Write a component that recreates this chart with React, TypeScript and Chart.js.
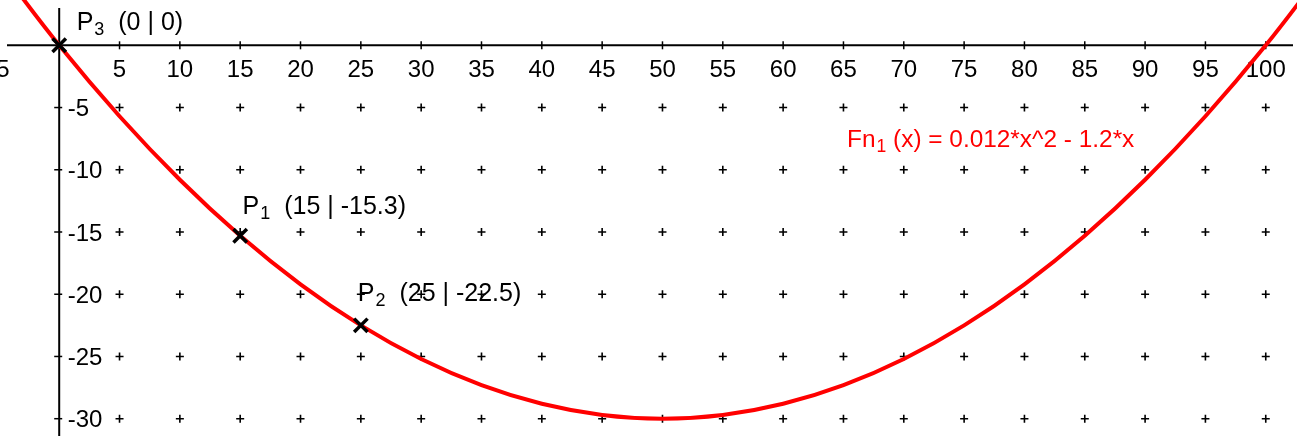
import React, { useEffect, useRef } from "react";
import { Chart, registerables } from "chart.js";

Chart.register(...registerables);

// ---- data ----
const curveX = [-5, 0, 5, 10, 15, 20, 25, 30, 35, 40, 45, 50, 55, 60, 65, 70, 75, 80, 85, 90, 95, 100, 105];
const curveY = [6.3, 0, -5.7, -10.8, -15.3, -19.2, -22.5, -25.2, -27.3, -28.8, -29.7, -30, -29.7, -28.8, -27.3, -25.2, -22.5, -19.2, -15.3, -10.8, -5.7, 0, 6.3];

const pointNames = ["3", "1", "2"];
const pointX = [0, 15, 25];
const pointY = [0, -15.3, -22.5];

const xTicks = [-5, 5, 10, 15, 20, 25, 30, 35, 40, 45, 50, 55, 60, 65, 70, 75, 80, 85, 90, 95, 100];
const yTicks = [-5, -10, -15, -20, -25, -30];

const gridX = [5, 10, 15, 20, 25, 30, 35, 40, 45, 50, 55, 60, 65, 70, 75, 80, 85, 90, 95, 100];
const gridY = [-5, -10, -15, -20, -25, -30];

const functionName = "Fn";
const functionIndex = "1";
const functionText = " (x) = 0.012*x^2 - 1.2*x";

// label anchors (data coordinates, left / baseline)
const pointLabelX = [1.45, 15.2, 24.75];
const pointLabelY = [1.25, -13.55, -20.55];
const functionLabelX = 65.3;
const functionLabelY = -8.15;

const X_MIN = -4.907;
const X_MAX = 102.59;
const Y_MIN = -31.39;
const Y_MAX = 3.64;

const FONT_FAMILY = '"Liberation Sans", Arial, sans-serif';

function drawSubLabel(
  ctx: CanvasRenderingContext2D,
  x: number,
  y: number,
  main: string,
  sub: string,
  rest: string,
  color: string,
  size: number
) {
  ctx.fillStyle = color;
  ctx.textAlign = "left";
  ctx.textBaseline = "alphabetic";
  ctx.font = `${size}px ${FONT_FAMILY}`;
  ctx.fillText(main, x, y);
  let cx = x + ctx.measureText(main).width + 1;
  ctx.font = `${size * 0.72}px ${FONT_FAMILY}`;
  ctx.fillText(sub, cx, y + 5);
  cx += ctx.measureText(sub).width;
  ctx.font = `${size}px ${FONT_FAMILY}`;
  ctx.fillText(rest, cx, y);
}

const axesPlugin = {
  id: "geoAxes",
  beforeDatasetsDraw(chart: any) {
    const { ctx, chartArea } = chart;
    const xs = chart.scales.x;
    const ys = chart.scales.y;
    const x0 = xs.getPixelForValue(0);
    const y0 = ys.getPixelForValue(0);
    ctx.save();
    ctx.strokeStyle = "#000";
    ctx.lineWidth = 2;
    ctx.beginPath();
    ctx.moveTo(chartArea.left + 7, y0);
    ctx.lineTo(chartArea.right - 4, y0);
    ctx.stroke();
    ctx.beginPath();
    ctx.moveTo(x0, chartArea.top + 8);
    ctx.lineTo(x0, chartArea.bottom);
    ctx.stroke();

    ctx.lineWidth = 1.5;
    xTicks.forEach((v) => {
      const px = xs.getPixelForValue(v);
      ctx.beginPath();
      ctx.moveTo(px, y0 - 4);
      ctx.lineTo(px, y0 + 4);
      ctx.stroke();
    });
    yTicks.forEach((v) => {
      const py = ys.getPixelForValue(v);
      ctx.beginPath();
      ctx.moveTo(x0 - 5, py);
      ctx.lineTo(x0 + 3, py);
      ctx.stroke();
    });

    ctx.fillStyle = "#000";
    ctx.font = `24px ${FONT_FAMILY}`;
    ctx.textBaseline = "alphabetic";
    ctx.textAlign = "center";
    xTicks.forEach((v) => {
      ctx.fillText(String(v), xs.getPixelForValue(v), y0 + 31.5);
    });
    ctx.textAlign = "left";
    yTicks.forEach((v) => {
      ctx.fillText(String(v), x0 + 8.5, ys.getPixelForValue(v) + 8.5);
    });

    pointNames.forEach((n, i) => {
      drawSubLabel(
        ctx,
        xs.getPixelForValue(pointLabelX[i]),
        ys.getPixelForValue(pointLabelY[i]),
        "P",
        n,
        `  (${pointX[i]} | ${pointY[i]})`,
        "#000",
        25
      );
    });

    drawSubLabel(
      ctx,
      xs.getPixelForValue(functionLabelX),
      ys.getPixelForValue(functionLabelY),
      functionName,
      functionIndex,
      functionText,
      "#ff0000",
      24.4
    );
    ctx.restore();
  },
};

export default function App() {
  const canvasRef = useRef<HTMLCanvasElement | null>(null);

  useEffect(() => {
    if (!canvasRef.current) return;
    const gridPoints: { x: number; y: number }[] = [];
    gridY.forEach((gy) => gridX.forEach((gx) => gridPoints.push({ x: gx, y: gy })));

    const chart = new Chart(canvasRef.current, {
      type: "scatter",
      data: {
        datasets: [
          {
            data: pointX.map((x, i) => ({ x, y: pointY[i] })),
            pointStyle: "crossRot",
            pointRadius: 9.5,
            borderColor: "#000",
            backgroundColor: "#000",
            pointBorderWidth: 3.5,
            showLine: false,
            order: 0,
          } as any,
          {
            data: curveX.map((x, i) => ({ x, y: curveY[i] })),
            showLine: true,
            pointRadius: 0,
            borderColor: "#ff0000",
            borderWidth: 4,
            tension: 0.4,
            order: 1,
          } as any,
          {
            data: gridPoints,
            pointStyle: "cross",
            pointRadius: 4,
            borderColor: "#000",
            pointBorderWidth: 1.6,
            showLine: false,
            order: 2,
          } as any,
        ],
      },
      options: {
        responsive: false,
        animation: false,
        events: [],
        layout: { padding: 0, autoPadding: false },
        plugins: { legend: { display: false }, tooltip: { enabled: false } },
        scales: {
          x: { type: "linear", min: X_MIN, max: X_MAX, display: false },
          y: { type: "linear", min: Y_MIN, max: Y_MAX, display: false },
        },
      } as any,
      plugins: [axesPlugin],
    });
    return () => chart.destroy();
  }, []);

  return (
    <div style={{ position: "fixed", left: 0, top: 0, width: 1297, height: 436, background: "#fff" }}>
      <canvas ref={canvasRef} width={1297} height={436} style={{ display: "block" }} />
    </div>
  );
}
